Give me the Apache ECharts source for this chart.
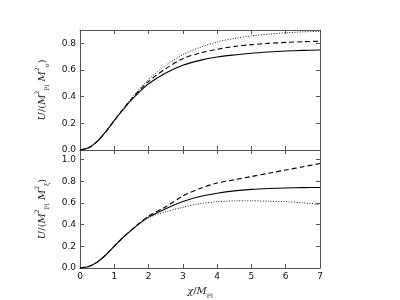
<!DOCTYPE html>
<html><head><meta charset="utf-8">
<script src="https://cdn.jsdelivr.net/npm/echarts@6/dist/echarts.min.js"></script>
<style>html,body{margin:0;padding:0;background:#fff}#c{width:400px;height:300px}</style>
</head><body><div id="c"></div>
<script>
var xs = [0,0.25,0.5,0.75,1,1.25,1.5,1.75,2,2.5,3,3.5,4,4.5,5,5.5,6,6.5,7];
var topSolid  = [0,0.016,0.064,0.137,0.220,0.300,0.375,0.440,0.497,0.577,0.635,0.672,0.697,0.713,0.726,0.735,0.742,0.747,0.750];
var topDashed = [0,0.016,0.064,0.137,0.222,0.305,0.382,0.452,0.515,0.610,0.685,0.727,0.755,0.777,0.790,0.800,0.807,0.812,0.816];
var topDotted = [0,0.016,0.064,0.138,0.224,0.308,0.388,0.462,0.530,0.635,0.715,0.770,0.810,0.837,0.856,0.869,0.879,0.886,0.890];
var botSolid  = [0,0.013,0.054,0.120,0.202,0.280,0.350,0.415,0.470,0.548,0.615,0.660,0.690,0.712,0.726,0.734,0.739,0.742,0.744];
var botDashed = [0,0.013,0.054,0.120,0.202,0.280,0.351,0.418,0.480,0.565,0.665,0.735,0.785,0.815,0.845,0.875,0.905,0.935,0.965];
var botDotted = [0,0.013,0.054,0.120,0.202,0.280,0.350,0.413,0.465,0.520,0.560,0.595,0.612,0.620,0.621,0.617,0.612,0.602,0.585];
var topYName = '{i|U}{n|/(}{i|M}{sup|2}{sub|Pl} {i|M}{sup|2}{sub|σ}{n|)}';
var botYName = '{i|U}{n|/(}{i|M}{sup|2}{sub|Pl} {i|M}{sup|2}{sub|ξ}{n|)}';
var xName = '{i|χ}{n|/}{i|M}{sub|Pl}';

function pairs(ys){ return xs.map(function(x,i){ return [x, ys[i]]; }); }
var frame = {show:true, onZero:false, lineStyle:{color:'#555', width:1}};
var richT = {
  i:{fontFamily:'DejaVu Serif', fontStyle:'italic', fontSize:10, color:'#222', lineHeight:16},
  n:{fontFamily:'DejaVu Serif', fontSize:10, color:'#222', lineHeight:16},
  sup:{fontFamily:'DejaVu Serif', fontSize:6, color:'#222', verticalAlign:'top', lineHeight:16},
  sub:{fontFamily:'DejaVu Serif', fontSize:6, color:'#222', verticalAlign:'bottom', lineHeight:16}
};
function xAx(gi, pos, labels){
  return {type:'value', gridIndex:gi, position:pos, min:0, max:7, interval:1,
    axisLine:frame, axisTick:{show:true, inside:true, length:4, lineStyle:{color:'#555'}},
    splitLine:{show:false},
    axisLabel:{show:labels, fontFamily:'DejaVu Sans', fontSize:9, color:'#111', margin:4},
    name: labels ? xName : '', nameLocation:'middle', nameGap:15,
    nameTextStyle:{rich:richT}};
}
function yAx(gi, pos, max, labels, nm){
  return {type:'value', gridIndex:gi, position:pos, min:0, max:max, interval:0.2,
    axisLine:frame, axisTick:{show:true, inside:true, length:4, lineStyle:{color:'#555'}},
    splitLine:{show:false},
    axisLabel:{show:labels, showMaxLabel:false, fontFamily:'DejaVu Sans', fontSize:9, color:'#111', margin:4,
      formatter:function(v){ return v.toFixed(1); }},
    name: nm || '', nameLocation:'middle', nameGap:19, nameRotate:90,
    nameTextStyle:{rich:richT}};
}
function ser(xi, yi, data, type){
  var ls = {color:'#000', width:1.1};
  if(type==='dashed'){ ls.type=[5,3]; }
  else if(type==='dotted'){ ls.type=[1,1.6]; ls.width=1; ls.color='#222'; }
  return {type:'line', xAxisIndex:xi, yAxisIndex:yi, data:pairs(data), smooth:0.3,
    showSymbol:false, symbol:'none', lineStyle:ls, silent:true};
}
var chart = echarts.init(document.getElementById('c'), null, {renderer:'canvas'});
chart.setOption({
  animation:false,
  backgroundColor:'#fff',
  grid:[{left:80, top:30, width:240, height:120},{left:80, top:150, width:240, height:120}],
  xAxis:[xAx(0,'bottom',false), xAx(0,'top',false), xAx(1,'bottom',true), xAx(1,'top',false)],
  yAxis:[yAx(0,'left',0.9,true,topYName), yAx(0,'right',0.9,false), yAx(1,'left',1.09,true,botYName), yAx(1,'right',1.09,false)],
  series:[
    ser(0,0,topSolid,'solid'), ser(0,0,topDashed,'dashed'), ser(0,0,topDotted,'dotted'),
    ser(2,2,botSolid,'solid'), ser(2,2,botDashed,'dashed'), ser(2,2,botDotted,'dotted')
  ]
});
</script></body></html>
